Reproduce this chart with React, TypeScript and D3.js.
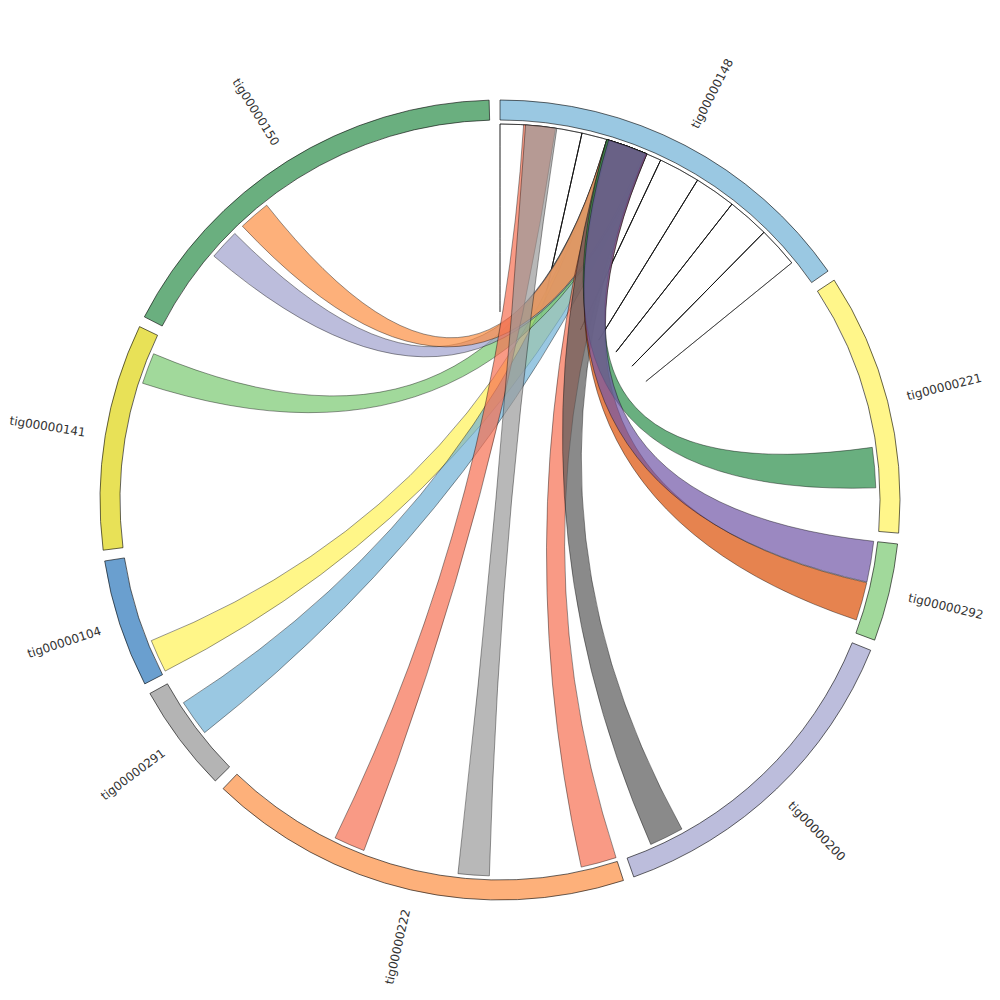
import * as d3 from "d3";
import { useEffect, useRef } from "react";

// contigs in drawing order (clockwise from top), lengths in kb
const contigs = [
  "tig00000148",
  "tig00000221",
  "tig00000292",
  "tig00000200",
  "tig00000222",
  "tig00000291",
  "tig00000104",
  "tig00000141",
  "tig00000150",
];
const lengths = [551, 381, 142, 484, 618, 157, 186, 329, 612];
const contigColors = [
  "#9ac8e2",
  "#fff68a",
  "#a1d99b",
  "#bcbddc",
  "#fdb07a",
  "#b4b4b4",
  "#6a9fcf",
  "#e8e157",
  "#6aaf7f",
];

// alignments of tig00000148 against the other contigs (kb)
const linkTargets = [
  "tig00000104",
  "tig00000291",
  "tig00000141",
  "tig00000150",
  "tig00000150",
  "tig00000222",
  "tig00000222",
  "tig00000222",
  "tig00000200",
  "tig00000292",
  "tig00000221",
  "tig00000292",
];
const sourceRanges = [
  [165, 230],
  [165, 230],
  [166, 229],
  [165, 228],
  [165, 225],
  [36, 85],
  [39, 87],
  [168, 228],
  [165, 230],
  [170, 230],
  [165, 228],
  [168, 230],
];
const targetRanges = [
  [3, 54],
  [64, 120],
  [253, 301],
  [132, 179],
  [195, 244],
  [392, 440],
  [196, 244],
  [0, 55],
  [390, 443],
  [64, 123],
  [253, 315],
  [0, 63],
];
const linkColors = [
  "#fff256",
  "#6fb0d6",
  "#79c970",
  "#9fa1cd",
  "#fc8e41",
  "#f66f51",
  "#9a9a9a",
  "#f66f51",
  "#585858",
  "#db4f04",
  "#2a8d48",
  "#7056a6",
];

// self alignments inside tig00000148 (reverse strand), kb
const selfLinks = [
  [0, 126],
  [126, 253],
  [253, 317],
  [317, 381],
  [381, 446],
  [446, 509],
];

export default function App() {
  const svgRef = useRef<SVGSVGElement>(null);

  useEffect(() => {
    if (!svgRef.current) return;
    const svg = d3.select(svgRef.current);
    svg.selectAll("*").remove();

    const size = 1000;
    const outerR = 400;
    const innerR = 380;
    const linkR = 376;
    const labelR = 420;
    const pad = (1.56 * Math.PI) / 180;

    const total = d3.sum(lengths);
    const k = (2 * Math.PI - pad * contigs.length) / total;
    const scales = new Map<string, d3.ScaleLinear<number, number>>();
    let acc = 0;
    contigs.forEach((c, i) => {
      const a0 = acc * k + i * pad;
      scales.set(
        c,
        d3.scaleLinear().domain([0, lengths[i]]).range([a0, a0 + lengths[i] * k])
      );
      acc += lengths[i];
    });

    const g = svg
      .append("g")
      .attr("transform", `translate(${size / 2},${size / 2})`);

    // --- contig arcs ---
    const arc = d3.arc<any>().innerRadius(innerR).outerRadius(outerR);
    g.selectAll(".contig")
      .data(contigs)
      .enter()
      .append("path")
      .attr("class", "contig")
      .attr("d", (c) => {
        const s = scales.get(c)!;
        return arc({ startAngle: s.range()[0], endAngle: s.range()[1] });
      })
      .attr("fill", (_, i) => contigColors[i])
      .attr("stroke", "#000")
      .attr("stroke-width", 0.6);

    // --- labels ---
    g.selectAll(".label")
      .data(contigs)
      .enter()
      .append("text")
      .attr("class", "label")
      .attr("transform", (c) => {
        const [a0, a1] = scales.get(c)!.range();
        const a = (a0 + a1) / 2;
        const deg = (a * 180) / Math.PI;
        return a < Math.PI
          ? `rotate(${deg - 90}) translate(${labelR},0)`
          : `rotate(${deg - 90}) translate(${labelR},0) rotate(180)`;
      })
      .attr("text-anchor", (c) => {
        const [a0, a1] = scales.get(c)!.range();
        return (a0 + a1) / 2 < Math.PI ? "start" : "end";
      })
      .attr("dy", "0.35em")
      .attr("font-family", "DejaVu Sans, sans-serif")
      .attr("font-size", 12)
      .attr("fill", "#333")
      .text((c) => c);

    // --- self links (reverse strand, drawn as hairpins) ---
    const src = scales.get("tig00000148")!;
    const xy = (a: number): [number, number] => [
      linkR * Math.sin(a),
      -linkR * Math.cos(a),
    ];
    const selfPath = (s0: number, s1: number, t0: number, t1: number) => {
      const p = d3.path();
      p.moveTo(...xy(s0));
      p.arc(0, 0, linkR, s0 - Math.PI / 2, s1 - Math.PI / 2, s1 < s0);
      p.quadraticCurveTo(0, 0, ...xy(t0));
      p.arc(0, 0, linkR, t0 - Math.PI / 2, t1 - Math.PI / 2, t1 < t0);
      p.quadraticCurveTo(0, 0, ...xy(s0));
      p.closePath();
      return p.toString();
    };
    g.selectAll(".self")
      .data(selfLinks)
      .enter()
      .append("path")
      .attr("class", "self")
      .attr("d", (d) =>
        selfPath(src(d[0]), src(d[1]), src(d[1]), src(d[0]))
      )
      .attr("fill", "#f0a040")
      .attr("fill-opacity", 0.7)
      .attr("stroke", "#000")
      .attr("stroke-width", 0.6)
      .attr("stroke-opacity", 0.85);

    // --- links ---
    const ribbon = d3.ribbon<any, any>().radius(linkR);
    g.selectAll(".link")
      .data(linkTargets)
      .enter()
      .append("path")
      .attr("class", "link")
      .attr("d", (t, i) => {
        const ts = scales.get(t)!;
        return ribbon({
          source: {
            startAngle: src(sourceRanges[i][0]),
            endAngle: src(sourceRanges[i][1]),
          },
          target: {
            startAngle: ts(targetRanges[i][0]),
            endAngle: ts(targetRanges[i][1]),
          },
        }) as unknown as string;
      })
      .attr("fill", (_, i) => linkColors[i])
      .attr("fill-opacity", 0.7)
      .attr("stroke", "#000")
      .attr("stroke-width", 0.5)
      .attr("stroke-opacity", 0.8);
  }, []);

  return (
    <svg
      ref={svgRef}
      width={1000}
      height={1000}
      style={{ position: "absolute", top: 0, left: 0, display: "block" }}
    />
  );
}
